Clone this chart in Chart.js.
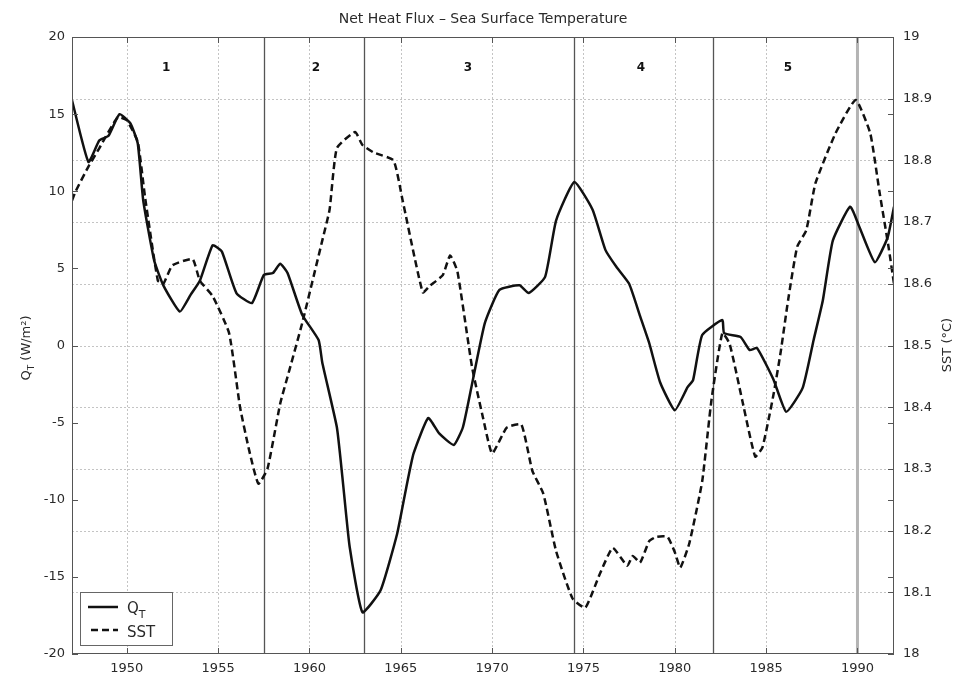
<!DOCTYPE html>
<html>
<head>
<meta charset="utf-8">
<script src="https://cdn.jsdelivr.net/npm/chart.js@4.4.1/dist/chart.umd.min.js"></script>
<style>
  html, body { margin: 0; padding: 0; background: #fff; }
  #wrap { width: 958px; height: 675px; }
</style>
</head>
<body>
<div id="wrap"><canvas id="c" width="958" height="675"></canvas></div>
<script>
// Net surface heat flux Q_T (W/m^2), smoothed series
const qYears = [1947.0, 1947.9, 1948.5, 1949.0, 1949.6, 1950.2, 1950.6, 1950.9, 1951.5, 1952.0,
  1952.9, 1953.5, 1954.0, 1954.7, 1955.2, 1956.0, 1956.85, 1957.5, 1958.0, 1958.4,
  1958.8, 1959.6, 1960.5, 1960.7, 1961.5, 1961.8, 1962.2, 1962.9, 1963.9, 1964.8,
  1965.3, 1965.7, 1966.5, 1967.1, 1967.9, 1968.4, 1968.9, 1969.6, 1970.4, 1971.5,
  1972.0, 1972.9, 1973.5, 1974.5, 1975.5, 1976.2, 1976.8, 1977.5, 1978.1, 1978.6,
  1979.2, 1980.0, 1980.7, 1981.0, 1981.5, 1982.6, 1982.7, 1983.6, 1984.1, 1984.5,
  1985.4, 1986.1, 1987.0, 1987.6, 1988.1, 1988.65, 1989.6, 1990.1, 1990.95, 1991.65, 1992.0];
const qValues = [15.9, 11.9, 13.3, 13.6, 15.0, 14.4, 13.1, 9.4, 5.5, 3.9,
  2.2, 3.3, 4.2, 6.5, 6.1, 3.4, 2.75, 4.57, 4.7, 5.3,
  4.7, 2.0, 0.35, -1.1, -5.3, -8.5, -13.05, -17.3, -15.85, -12.2,
  -9.2, -7.0, -4.7, -5.7, -6.45, -5.3, -2.5, 1.45, 3.6, 3.9,
  3.4, 4.45, 8.1, 10.6, 8.8, 6.2, 5.1, 4.0, 1.9, 0.15,
  -2.4, -4.2, -2.7, -2.25, 0.68, 1.65, 0.8, 0.55, -0.3, -0.16,
  -2.2, -4.3, -2.75, 0.36, 2.9, 6.8, 9.0, 7.7, 5.4, 7.0, 9.0];

// Sea surface temperature (deg C)
const sstYears = [1947.0, 1947.2, 1947.9, 1948.5, 1949.5, 1950.0, 1950.6, 1951.0, 1951.7, 1952.0,
  1952.5, 1953.6, 1954.0, 1954.7, 1955.6, 1956.2, 1956.7, 1957.2, 1957.7, 1958.4,
  1958.9, 1959.6, 1960.7, 1961.1, 1961.5, 1962.5, 1962.9, 1963.5, 1964.6, 1965.1,
  1966.2, 1966.6, 1967.3, 1967.7, 1968.1, 1968.9, 1969.5, 1970.0, 1970.8, 1971.6,
  1972.2, 1972.8, 1973.5, 1974.4, 1975.1, 1975.9, 1976.6, 1977.4, 1977.7, 1978.1,
  1978.6, 1979.0, 1979.6, 1980.0, 1980.3, 1980.8, 1981.5, 1982.0, 1982.6, 1983.0,
  1983.7, 1984.4, 1984.8, 1985.4, 1985.8, 1986.2, 1986.7, 1987.2, 1987.7, 1988.8,
  1989.9, 1990.7, 1991.2, 1991.7, 1992.0];
const sstValues = [18.735, 18.75, 18.79, 18.82, 18.87, 18.865, 18.83, 18.74, 18.605, 18.60,
  18.63, 18.64, 18.605, 18.58, 18.52, 18.40, 18.33, 18.276, 18.30, 18.406,
  18.46, 18.536, 18.67, 18.72, 18.82, 18.846, 18.825, 18.813, 18.80, 18.735,
  18.586, 18.597, 18.614, 18.646, 18.62, 18.465, 18.383, 18.325, 18.367, 18.372,
  18.297, 18.26, 18.167, 18.09, 18.075, 18.13, 18.172, 18.143, 18.159, 18.148,
  18.183, 18.19, 18.19, 18.165, 18.14, 18.18, 18.28, 18.41, 18.52, 18.503,
  18.41, 18.32, 18.335, 18.42, 18.49, 18.573, 18.66, 18.687, 18.763, 18.844,
  18.898, 18.844, 18.75, 18.66, 18.60];

// Axis ticks and labels
const yearTicks = [1950, 1955, 1960, 1965, 1970, 1975, 1980, 1985, 1990];
const fluxTicks = [-20, -15, -10, -5, 0, 5, 10, 15, 20];
const sstTicks = [18, 18.1, 18.2, 18.3, 18.4, 18.5, 18.6, 18.7, 18.8, 18.9, 19];
const sstTickLabels = ['18', '18.1', '18.2', '18.3', '18.4', '18.5', '18.6', '18.7', '18.8', '18.9', '19'];

// Period boundaries and period numbers
const regionBounds = [1957.5, 1963.0, 1974.5, 1982.1];
const highlightYears = [1990];
const regionNames = ['1', '2', '3', '4', '5'];
const regionLabelYears = [1952.15, 1960.36, 1968.67, 1978.14, 1986.19];
const regionLabelLevel = 18;

const FONT = '"DejaVu Sans", "Liberation Sans", Arial, sans-serif';
const TXT = '#2a2a2a';

function line(ctx, x1, y1, x2, y2) {
  ctx.beginPath(); ctx.moveTo(x1, y1); ctx.lineTo(x2, y2); ctx.stroke();
}

// Draws the text with a subscript part, starting at x (text frame)
function drawSub(ctx, main, sub, rest, x, y, size) {
  ctx.font = size + 'px ' + FONT;
  ctx.fillText(main, x, y);
  let w = ctx.measureText(main).width;
  ctx.font = Math.round(size * 0.7) + 'px ' + FONT;
  ctx.fillText(sub, x + w, y + size * 0.3);
  w += ctx.measureText(sub).width;
  ctx.font = size + 'px ' + FONT;
  if (rest) ctx.fillText(rest, x + w, y);
  return w + (rest ? ctx.measureText(rest).width : 0);
}

function measureSub(ctx, main, sub, rest, size) {
  ctx.font = size + 'px ' + FONT;
  let w = ctx.measureText(main).width + (rest ? ctx.measureText(rest).width : 0);
  ctx.font = Math.round(size * 0.7) + 'px ' + FONT;
  return w + ctx.measureText(sub).width;
}

const decor = {
  id: 'decor',
  beforeDatasetsDraw(chart) {
    const { ctx, chartArea: a, scales } = chart;
    const x = scales.x, yS = scales.ySST;
    ctx.save();
    // dotted grid
    ctx.strokeStyle = '#c4c4c4';
    ctx.lineWidth = 1;
    ctx.setLineDash([2, 2]);
    yearTicks.forEach(v => {
      const px = Math.round(x.getPixelForValue(v)) + 0.5;
      line(ctx, px, a.top, px, a.bottom);
    });
    sstTicks.slice(1, -1).forEach(v => {
      const py = Math.round(yS.getPixelForValue(v)) + 0.5;
      line(ctx, a.left, py, a.right, py);
    });
    ctx.setLineDash([]);
    // highlighted year line
    ctx.strokeStyle = '#b4b4b4';
    ctx.lineWidth = 3;
    highlightYears.forEach(v => {
      const px = x.getPixelForValue(v);
      line(ctx, px, a.top, px, a.bottom);
    });
    // period boundaries
    ctx.strokeStyle = '#555';
    ctx.lineWidth = 1.3;
    regionBounds.forEach(v => {
      const px = Math.round(x.getPixelForValue(v)) + 0.5;
      line(ctx, px, a.top, px, a.bottom);
    });
    ctx.restore();
  },
  afterDatasetsDraw(chart) {
    const { ctx, chartArea: a, scales } = chart;
    const x = scales.x, yQ = scales.yQ, yS = scales.ySST;
    ctx.save();
    // frame
    ctx.strokeStyle = '#555';
    ctx.lineWidth = 1;
    ctx.strokeRect(a.left + 0.5, a.top + 0.5, a.right - a.left - 1, a.bottom - a.top - 1);
    // inward tick marks
    const tl = 6;
    yearTicks.forEach(v => {
      const px = Math.round(x.getPixelForValue(v)) + 0.5;
      line(ctx, px, a.bottom, px, a.bottom - tl);
      line(ctx, px, a.top, px, a.top + tl);
    });
    fluxTicks.forEach(v => {
      const py = Math.round(yQ.getPixelForValue(v)) + 0.5;
      line(ctx, a.left, py, a.left + tl, py);
      line(ctx, a.right, py, a.right - tl, py);
    });
    sstTicks.forEach(v => {
      const py = Math.round(yS.getPixelForValue(v)) + 0.5;
      line(ctx, a.right, py, a.right - tl, py);
    });
    // period numbers
    ctx.fillStyle = '#111';
    ctx.font = 'bold 12px ' + FONT;
    ctx.textAlign = 'center';
    ctx.textBaseline = 'middle';
    regionNames.forEach((n, i) => {
      ctx.fillText(n, x.getPixelForValue(regionLabelYears[i]), yQ.getPixelForValue(regionLabelLevel));
    });
    ctx.restore();
  },
  afterDraw(chart) {
    const { ctx, chartArea: a } = chart;
    ctx.save();
    ctx.fillStyle = TXT;
    // title
    ctx.font = '14px ' + FONT;
    ctx.textAlign = 'center';
    ctx.textBaseline = 'alphabetic';
    ctx.fillText('Net Heat Flux \u2013 Sea Surface Temperature', (a.left + a.right) / 2, 23);

    // left axis title
    ctx.textAlign = 'left';
    const lw = measureSub(ctx, 'Q', 'T', ' (W/m\u00B2)', 13);
    ctx.save();
    ctx.translate(30, 348);
    ctx.rotate(-Math.PI / 2);
    drawSub(ctx, 'Q', 'T', ' (W/m\u00B2)', -lw / 2, 0, 13);
    ctx.restore();

    // right axis title
    ctx.save();
    ctx.translate(951, 345);
    ctx.rotate(-Math.PI / 2);
    ctx.font = '13px ' + FONT;
    ctx.textAlign = 'center';
    ctx.fillText('SST (\u00B0C)', 0, 0);
    ctx.restore();

    // legend box
    const bx = 80, by = 592, bw = 92, bh = 53;
    ctx.fillStyle = '#fff';
    ctx.fillRect(bx, by, bw, bh);
    ctx.strokeStyle = '#666';
    ctx.lineWidth = 1;
    ctx.strokeRect(bx + 0.5, by + 0.5, bw, bh);
    ctx.strokeStyle = '#111';
    ctx.lineWidth = 2.5;
    line(ctx, 88, 607, 118, 607);
    ctx.setLineDash([7, 4]);
    line(ctx, 91, 630, 118, 630);
    ctx.setLineDash([]);
    ctx.fillStyle = TXT;
    ctx.textAlign = 'left';
    drawSub(ctx, 'Q', 'T', '', 127, 613, 15);
    ctx.font = '15px ' + FONT;
    ctx.fillText('SST', 127, 637);
    ctx.restore();
  }
};

const tickFont = { family: FONT, size: 13 };

new Chart(document.getElementById('c'), {
  type: 'line',
  data: {
    datasets: [
      {
        label: 'Q_T',
        data: qYears.map((yr, i) => ({ x: yr, y: qValues[i] })),
        yAxisID: 'yQ',
        borderColor: '#111',
        borderWidth: 2.5,
        pointRadius: 0,
        tension: 0.15,
        fill: false
      },
      {
        label: 'SST',
        data: sstYears.map((yr, i) => ({ x: yr, y: sstValues[i] })),
        yAxisID: 'ySST',
        borderColor: '#111',
        borderWidth: 2.5,
        borderDash: [7, 4],
        pointRadius: 0,
        tension: 0.15,
        fill: false
      }
    ]
  },
  options: {
    responsive: false,
    animation: false,
    devicePixelRatio: 1,
    layout: { padding: { top: 37, left: 0, right: 0, bottom: 0 } },
    plugins: {
      legend: { display: false },
      title: { display: false },
      tooltip: { enabled: false }
    },
    scales: {
      x: {
        type: 'linear',
        min: 1947,
        max: 1992,
        afterBuildTicks: s => { s.ticks = yearTicks.map(v => ({ value: v })); },
        afterFit: s => { s.height = 21; },
        grid: { display: false, drawTicks: false },
        border: { display: false },
        ticks: { font: tickFont, color: TXT, padding: 7, maxRotation: 0, autoSkip: false,
                  callback: v => String(v) }
      },
      yQ: {
        type: 'linear',
        position: 'left',
        min: -20,
        max: 20,
        afterBuildTicks: s => { s.ticks = fluxTicks.map(v => ({ value: v })); },
        afterFit: s => { s.width = 72; },
        grid: { display: false, drawTicks: false },
        border: { display: false },
        ticks: { font: tickFont, color: TXT, padding: 7, autoSkip: false,
                 callback: v => String(v) }
      },
      ySST: {
        type: 'linear',
        position: 'right',
        min: 18,
        max: 19,
        afterBuildTicks: s => { s.ticks = sstTicks.map(v => ({ value: v })); },
        afterFit: s => { s.width = 64; },
        grid: { display: false, drawTicks: false },
        border: { display: false },
        ticks: { font: tickFont, color: TXT, padding: 9, autoSkip: false,
                 callback: (v, i) => sstTickLabels[i] }
      }
    }
  },
  plugins: [decor]
});
</script>
</body>
</html>
